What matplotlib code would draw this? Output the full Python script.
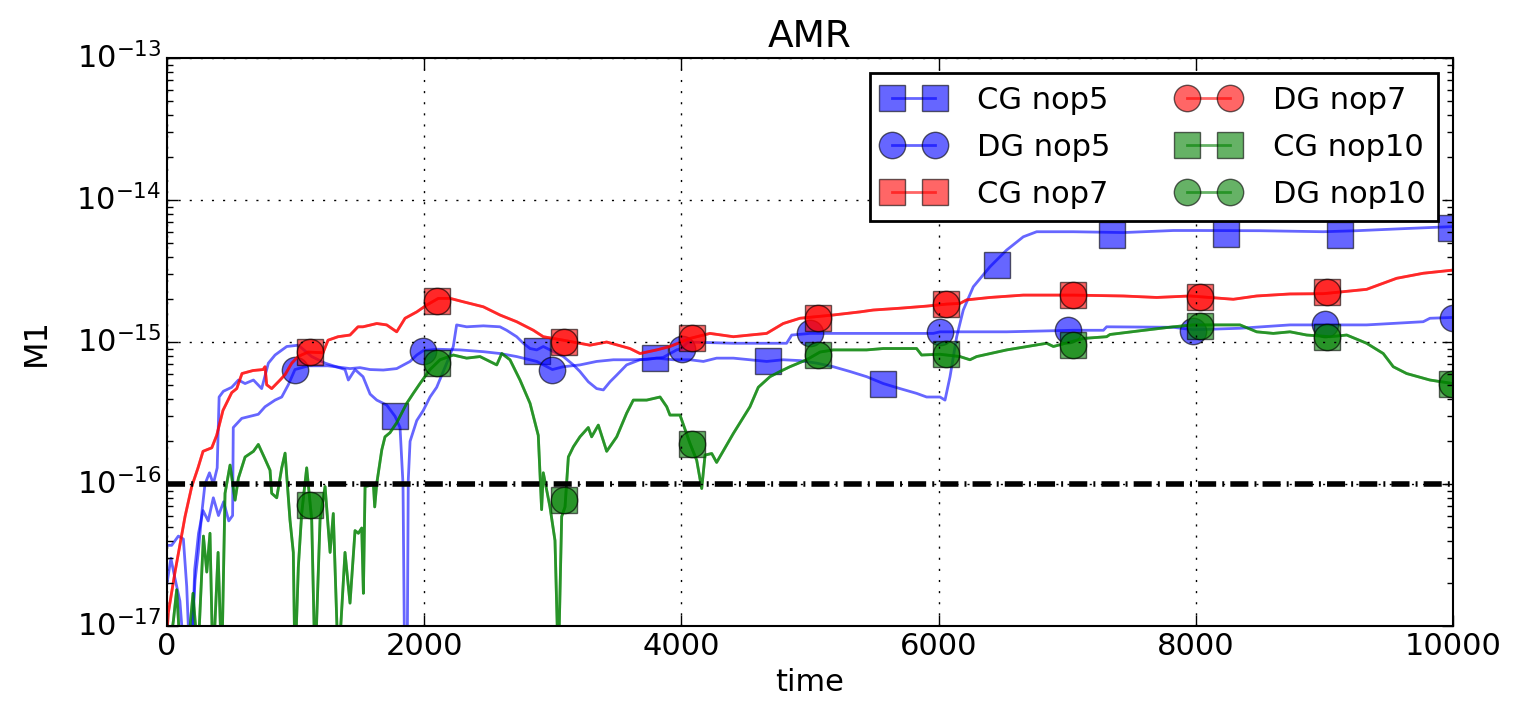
import numpy as np
import matplotlib
matplotlib.use('Agg')
import matplotlib.pyplot as plt
from matplotlib.lines import Line2D
from matplotlib.ticker import NullFormatter

plt.style.use('classic')
plt.rcParams['figure.facecolor'] = 'white'
plt.rcParams['axes.unicode_minus'] = False
plt.rcParams['lines.scale_dashes'] = True
plt.rcParams['font.family'] = ['DejaVu Sans']

# ---- M1 histories (time, M1) ----
# nop7: CG and DG runs lie on top of each other
nop7_t = [0, 10, 62, 140, 192, 241, 280, 348, 386, 435, 503, 542, 583, 669, 747, 762,
          775, 814, 879, 918, 970, 1019, 1096, 1213, 1252, 1330, 1423, 1485, 1524, 1631,
          1708, 1786, 1851, 1942, 2019, 2110, 2201, 2304, 2460, 2589, 2719, 2849, 2926,
          3082, 3289, 3419, 3600, 3678, 3808, 3911, 4067, 4222, 4404, 4533, 4663, 4792,
          4922, 5181, 5389, 5492, 5700, 5907, 6063, 6166, 6218, 6400, 6659, 7048, 7436,
          7696, 7955, 8292, 8474, 8733, 8992, 9329, 9562, 9769, 10000]
nop7_m1 = [9e-18, 1.24e-17, 2.4e-17, 5.9e-17, 9.6e-17, 1.3e-16, 1.7e-16, 1.8e-16, 2.2e-16,
           3.3e-16, 4.4e-16, 4.7e-16, 6.0e-16, 6.3e-16, 6.4e-16, 6.7e-16, 5.0e-16, 4.7e-16,
           5.4e-16, 5.9e-16, 7.1e-16, 7.9e-16, 8.5e-16, 8.4e-16, 1.03e-15, 1.09e-15,
           1.12e-15, 1.28e-15, 1.28e-15, 1.35e-15, 1.32e-15, 1.18e-15, 1.47e-15, 1.63e-15,
           1.82e-15, 2.03e-15, 2.03e-15, 1.92e-15, 1.77e-15, 1.55e-15, 1.39e-15, 1.21e-15,
           1.09e-15, 1.03e-15, 0.95e-15, 1.0e-15, 0.9e-15, 0.83e-15, 0.88e-15, 0.93e-15,
           1.06e-15, 1.15e-15, 1.09e-15, 1.12e-15, 1.15e-15, 1.35e-15, 1.47e-15, 1.55e-15,
           1.63e-15, 1.68e-15, 1.73e-15, 1.79e-15, 1.85e-15, 1.87e-15, 1.98e-15, 2.06e-15,
           2.14e-15, 2.14e-15, 2.11e-15, 2.06e-15, 2.11e-15, 2.0e-15, 2.11e-15, 2.18e-15,
           2.19e-15, 2.35e-15, 2.81e-15, 3.05e-15, 3.21e-15]

# nop10: CG and DG runs lie on top of each other
nop10_t = [0, 50, 75, 110, 150, 202, 240, 283, 309, 334, 357, 397, 425, 451, 490, 529,
           555, 607, 672, 710, 762, 801, 814, 853, 892, 918, 956, 982, 995, 1021, 1047,
           1086, 1125, 1151, 1190, 1229, 1268, 1293, 1332, 1384, 1423, 1462, 1488, 1514,
           1527, 1540, 1605, 1615, 1631, 1670, 1695, 1734, 1786, 1864, 1915, 1967, 2045,
           2123, 2226, 2330, 2434, 2564, 2603, 2667, 2745, 2823, 2887, 2913, 2926, 2978,
           3017, 3043, 3069, 3095, 3121, 3160, 3211, 3276, 3302, 3354, 3419, 3497, 3574,
           3626, 3730, 3834, 3886, 3911, 3989, 4067, 4119, 4158, 4184, 4236, 4274, 4404,
           4533, 4598, 4689, 4767, 4844, 4974, 5078, 5181, 5440, 5570, 5829, 5868, 6011,
           6166, 6244, 6296, 6530, 6841, 6893, 7126, 7307, 7333, 7566, 7825, 7981, 8214,
           8344, 8474, 8603, 8733, 8863, 9044, 9174, 9329, 9458, 9536, 9640, 9821, 10000]
nop10_m1 = [5e-18, 1.1e-17, 1.8e-17, 5e-18, 5e-18, 1.7e-17, 6e-18, 4.3e-17, 2.4e-17,
            4.5e-17, 5e-18, 3.3e-17, 5e-18, 8.6e-17, 1.36e-16, 7.7e-17, 1.1e-16, 1.55e-16,
            1.7e-16, 1.9e-16, 1.5e-16, 1.25e-16, 8.6e-17, 8e-17, 1.3e-16, 1.65e-16,
            5.6e-17, 3.3e-17, 5e-18, 2.6e-17, 6.2e-17, 1.3e-16, 5.6e-17, 5e-18, 5.6e-17,
            9.6e-17, 3.3e-17, 6.2e-17, 5e-18, 3.3e-17, 1.45e-17, 4.7e-17, 4.5e-17, 4.9e-17,
            1.7e-17, 9.6e-17, 9.9e-17, 6.9e-17, 1.01e-16, 1.74e-16, 2.15e-16, 2.3e-16,
            2.7e-16, 3.7e-16, 4.35e-16, 5.1e-16, 6.4e-16, 7.5e-16, 8.1e-16, 7.7e-16,
            7.9e-16, 6.9e-16, 8.3e-16, 7.5e-16, 5.4e-16, 3.7e-16, 2.2e-16, 6.6e-17,
            1.2e-16, 6.9e-17, 4.0e-17, 5e-18, 5.9e-17, 6.9e-17, 1.55e-16, 1.83e-16,
            2.15e-16, 2.5e-16, 2.15e-16, 2.6e-16, 1.7e-16, 2.15e-16, 3.15e-16, 3.9e-16,
            3.9e-16, 4.1e-16, 3.5e-16, 3.06e-16, 3.06e-16, 1.93e-16, 1.47e-16, 9.3e-17,
            1.6e-16, 1.64e-16, 1.42e-16, 2.27e-16, 3.5e-16, 4.8e-16, 5.7e-16, 6.2e-16,
            6.7e-16, 7.5e-16, 8.5e-16, 8.8e-16, 8.8e-16, 9.0e-16, 9.0e-16, 8.1e-16,
            8.2e-16, 7.9e-16, 7.5e-16, 7.9e-16, 8.8e-16, 9.8e-16, 9.3e-16, 1.06e-15,
            1.09e-15, 1.13e-15, 1.2e-15, 1.28e-15, 1.32e-15, 1.32e-15, 1.32e-15, 1.18e-15,
            1.15e-15, 1.18e-15, 1.12e-15, 1.09e-15, 1.12e-15, 9.8e-16, 8.3e-16, 6.7e-16,
            6.0e-16, 5.4e-16, 5.1e-16]

cg5_t = [0, 36, 88, 127, 153, 179, 218, 243, 270, 295, 330, 360, 390, 405, 438, 503, 555,
         607, 672, 736, 788, 840, 931, 1021, 1125, 1229, 1384, 1410, 1462, 1524, 1579,
         1631, 1708, 1773, 1812, 1835, 1850, 1866, 1876, 1890, 1942, 1993, 2045, 2097,
         2175, 2226, 2252, 2330, 2460, 2589, 2641, 2719, 2771, 2823, 2875, 2926, 3082,
         3160, 3211, 3276, 3341, 3393, 3445, 3497, 3574, 3678, 3808, 3937, 4067, 4171,
         4274, 4404, 4533, 4663, 4792, 4922, 5052, 5181, 5311, 5441, 5570, 5700, 5829,
         5907, 6011, 6050, 6089, 6141, 6192, 6270, 6400, 6529, 6659, 6763, 7048, 7436,
         7825, 8033, 8500, 8992, 9250, 9640, 10000]
cg5_m1 = [3.7e-17, 3.7e-17, 4.3e-17, 4.1e-17, 1.9e-17, 5e-18, 2.1e-17, 3.3e-17, 6.2e-17,
          1.0e-16, 1.2e-16, 1.0e-16, 1.3e-16, 4.1e-16, 4.5e-16, 4.8e-16, 5.4e-16, 5.1e-16,
          5.4e-16, 4.7e-16, 7.1e-16, 8.1e-16, 9.3e-16, 9.5e-16, 7.9e-16, 7.1e-16, 6.4e-16,
          5.4e-16, 6.4e-16, 5.7e-16, 4.3e-16, 3.9e-16, 3.6e-16, 3.0e-16, 2.5e-16, 1.0e-16,
          3e-18, 3e-18, 1.07e-16, 2.0e-16, 2.8e-16, 3.3e-16, 4.1e-16, 4.8e-16, 7.1e-16,
          9.3e-16, 1.32e-15, 1.28e-15, 1.3e-15, 1.28e-15, 1.21e-15, 1.09e-15, 0.98e-15,
          0.9e-15, 0.88e-15, 0.93e-15, 0.79e-15, 0.69e-15, 0.62e-15, 0.525e-15, 0.47e-15,
          0.46e-15, 0.525e-15, 0.585e-15, 0.69e-15, 0.75e-15, 0.77e-15, 0.75e-15, 0.75e-15,
          0.73e-15, 0.77e-15, 0.77e-15, 0.75e-15, 0.73e-15, 0.75e-15, 0.74e-15, 0.71e-15,
          0.67e-15, 0.62e-15, 0.57e-15, 0.51e-15, 0.47e-15, 0.435e-15, 0.41e-15, 0.41e-15,
          0.39e-15, 0.57e-15, 1.09e-15, 1.68e-15, 2.45e-15, 3.39e-15, 4.44e-15, 5.51e-15,
          5.98e-15, 5.98e-15, 5.9e-15, 6.1e-15, 6.1e-15, 6.08e-15, 5.98e-15, 6.08e-15,
          6.3e-15, 6.5e-15]

dg5_t = [0, 30, 60, 100, 140, 190, 215, 245, 280, 320, 360, 400, 440, 480, 510, 515, 581,
         710, 762, 840, 892, 943, 995, 1100, 1250, 1423, 1501, 1579, 1682, 1786, 1890,
         1942, 1993, 2097, 2278, 2460, 2589, 2719, 2875, 2997, 3082, 3211, 3341, 3471,
         3600, 3730, 3859, 3963, 4002, 4050, 4404, 4663, 4818, 4858, 5000, 5441, 5959,
         6011, 6530, 7048, 7282, 7307, 7825, 7980, 8344, 8733, 9329, 9769, 9821, 10000]
dg5_m1 = [2.0e-17, 3.0e-17, 2.2e-17, 1.5e-17, 5e-18, 5e-18, 2.5e-17, 4.5e-17, 6.5e-17,
          5.5e-17, 8.0e-17, 6.0e-17, 7.5e-17, 5.5e-17, 6.0e-17, 2.5e-16, 2.9e-16, 3.1e-16,
          3.5e-16, 3.9e-16, 4.1e-16, 5.0e-16, 6.4e-16, 6.8e-16, 6.8e-16, 6.5e-16, 6.6e-16,
          6.4e-16, 6.35e-16, 6.5e-16, 7.3e-16, 8.1e-16, 8.7e-16, 8.9e-16, 8.8e-16,
          8.55e-16, 8.3e-16, 7.9e-16, 7.3e-16, 6.4e-16, 6.7e-16, 6.9e-16, 7.3e-16, 7.5e-16,
          7.5e-16, 7.55e-16, 7.8e-16, 8.8e-16, 9.0e-16, 1.0e-15, 0.98e-15, 0.98e-15,
          0.98e-15, 1.12e-15, 1.15e-15, 1.15e-15, 1.15e-15, 1.18e-15, 1.18e-15, 1.21e-15,
          1.21e-15, 1.28e-15, 1.27e-15, 1.22e-15, 1.25e-15, 1.32e-15, 1.32e-15, 1.39e-15,
          1.47e-15, 1.49e-15]

# ---- marker samples ----
cg5_mark_t = [1773, 2880, 3795, 4676, 5570, 6457, 7346, 8235, 9121, 9984]
cg5_mark_m1 = [3.0e-16, 8.6e-16, 7.7e-16, 7.3e-16, 5.1e-16, 3.49e-15, 5.68e-15, 5.77e-15,
               5.68e-15, 6.35e-15]
dg5_mark_t = [995, 1993, 2997, 4002, 5000, 6010, 7008, 7980, 9005, 10000]
dg5_mark_m1 = [6.4e-16, 8.7e-16, 6.4e-16, 9.0e-16, 1.15e-15, 1.18e-15, 1.21e-15, 1.19e-15,
               1.35e-15, 1.47e-15]
nop7_mark_t = [1112, 2102, 3087, 4080, 5065, 6058, 7043, 8033, 9018]
nop7_mark_m1 = [8.55e-16, 1.95e-15, 1.0e-15, 1.06e-15, 1.47e-15, 1.85e-15, 2.14e-15,
                2.06e-15, 2.25e-15]
nop10_mark_t = [1112, 2102, 3087, 4080, 5065, 6058, 7043, 8033, 9018, 9990]
nop10_mark_m1 = [7.1e-17, 7.08e-16, 7.7e-17, 1.9e-16, 8.1e-16, 8.3e-16, 9.5e-16, 1.3e-15,
                 1.08e-15, 5.1e-16]

machine_eps = 1e-16

series = [
    ('CG nop5', 'b', 's', cg5_t, cg5_m1, cg5_mark_t, cg5_mark_m1),
    ('DG nop5', 'b', 'o', dg5_t, dg5_m1, dg5_mark_t, dg5_mark_m1),
    ('CG nop7', 'r', 's', nop7_t, nop7_m1, nop7_mark_t, nop7_mark_m1),
    ('DG nop7', 'r', 'o', nop7_t, nop7_m1, nop7_mark_t, nop7_mark_m1),
    ('CG nop10', 'g', 's', nop10_t, nop10_m1, nop10_mark_t, nop10_mark_m1),
    ('DG nop10', 'g', 'o', nop10_t, nop10_m1, nop10_mark_t, nop10_mark_m1),
]

fig = plt.figure(figsize=(15.13, 7.11), dpi=100)
ax = fig.add_axes([0.1104, 0.1195, 0.8499, 0.7989])

msize = 19
handles = []
for label, col, mk, t, m1, mt, mm in series:
    ax.plot(t, m1, '-', color=col, lw=2, alpha=0.6)
    ax.plot(mt, mm, ls='none', marker=mk, ms=msize, mfc=col, mec='k', mew=1,
            alpha=0.6)
    handles.append(Line2D([], [], color=col, lw=2, marker=mk, ms=msize, mfc=col,
                          mec='k', mew=1, alpha=0.6, label=label))

# machine precision reference
ax.axhline(machine_eps, color='k', lw=4, linestyle=(0, (3.25, 1.1, 0.35, 1.1)),
           zorder=3)

ax.set_yscale('log')
ax.set_xlim(0, 10000)
ax.set_ylim(1e-17, 1e-13)
ax.yaxis.set_minor_formatter(NullFormatter())
ax.grid(True, color='k', linestyle=(0, (1.5, 6.5)), linewidth=1)
ax.tick_params(labelsize=22, which='both', direction='in')
ax.tick_params(which='major', length=8, width=1)
ax.tick_params(which='minor', length=4, width=1)
for sp in ax.spines.values():
    sp.set_linewidth(1.5)

ax.set_title('AMR', fontsize=27, pad=8)
ax.set_xlabel('time', fontsize=22)
ax.set_ylabel('M1', fontsize=23, labelpad=18)

leg = ax.legend(handles=handles, loc='upper right', ncol=2, numpoints=2, fontsize=22,
                frameon=True, fancybox=False, framealpha=1, edgecolor='k',
                handlelength=2.0, labelspacing=0.6, columnspacing=2.2,
                borderpad=0.4, handletextpad=1.1)
leg.get_frame().set_linewidth(2)

fig.savefig('out.png', dpi=100, facecolor='white')
